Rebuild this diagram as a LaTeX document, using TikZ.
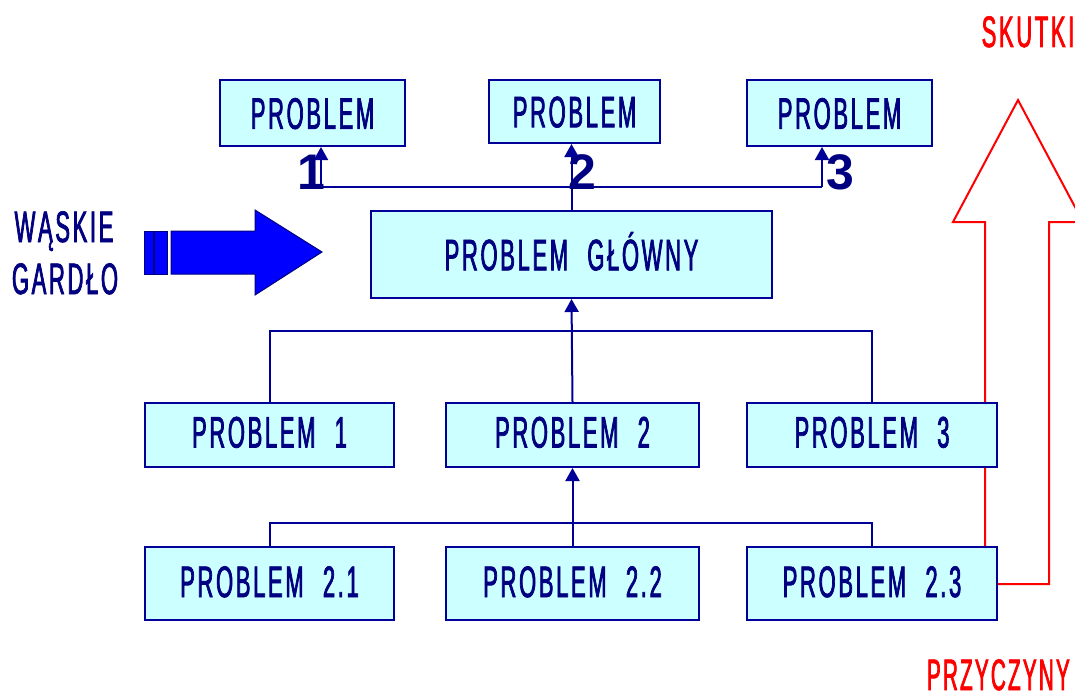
\documentclass[tikz,border=0pt]{standalone}
\usepackage{fontspec}
\setmainfont{Liberation Sans}[FakeStretch=0.5, FakeBold=1.6, LetterSpace=6, WordSpace=2.2]
\newfontfamily\numfont{Liberation Sans}
\newfontfamily\narrowfont{Liberation Sans}[FakeStretch=0.47, FakeBold=1.6, LetterSpace=5]
\usetikzlibrary{arrows.meta,calc}
\definecolor{navy}{HTML}{000080}
\definecolor{boxfill}{HTML}{CCFFFF}
\definecolor{boxline}{HTML}{000099}
\definecolor{redc}{HTML}{FF0000}
\definecolor{blockblue}{HTML}{0000FF}
\begin{document}
\begin{tikzpicture}[x=1pt,y=-1pt,
  pbox/.style={draw=boxline, line width=2pt, fill=boxfill, inner sep=0pt,
    text=navy, font=\fontsize{44}{50}\selectfont, text height=31.5pt, text depth=0pt},
  conn/.style={draw=boxline, line width=2pt},
  arr/.style={conn, -{Triangle[length=13pt,width=14pt]}},
  lbl/.style={text=navy, font=\fontsize{44}{50}\selectfont, inner sep=0pt},
  redlbl/.style={text=redc, font=\fontsize{44}{50}\selectfont, inner sep=0pt},
  num/.style={text=navy, font=\numfont\bfseries\fontsize{50}{50}\selectfont, inner sep=0pt},
  redline/.style={draw=redc, line width=2pt, line join=miter},
  block/.style={fill=blockblue, draw=navy, line width=1pt}
]
\clip (0,0) rectangle (1075,698);
\fill[white] (0,0) rectangle (1075,698);

% red arrow coordinates
\coordinate (rl) at (985,222);
\coordinate (rr) at (1049,222);
\coordinate (rtip) at (1018,100);
\coordinate (rhl) at (953,222);
\coordinate (rhr) at (1083,222);
\coordinate (rbot) at (1049,584);

% red arrow (drawn first, behind boxes)
\draw[redline] (985,547) -- (rl) -- (rhl) -- (rtip) -- (rhr) -- (rr) -- (rbot) -- (997,584);

% top boxes
\node[pbox, minimum width=185pt, minimum height=66pt] (t1) at (312.5,113) {PROBLEM};
\node[pbox, minimum width=171pt, minimum height=63pt] (t2) at (574.5,111.5) {PROBLEM};
\node[pbox, minimum width=185pt, minimum height=66pt] (t3) at (839.5,113) {PROBLEM};

% main
\node[pbox, minimum width=401pt, minimum height=87pt] (main) at (571.5,254.5) {PROBLEM GŁÓWNY};

% row 2
\node[pbox, minimum width=249pt, minimum height=64pt, text height=25pt] (p1) at (269.5,435) {PROBLEM 1};
\node[pbox, minimum width=253pt, minimum height=64pt, text height=25pt] (p2) at (572.5,435) {PROBLEM 2};
\node[pbox, minimum width=250pt, minimum height=64pt, text height=25pt] (p3) at (872,435) {PROBLEM 3};

% row 3
\node[pbox, minimum width=249pt, minimum height=73pt, text height=27pt] (q1) at (269.5,583.5) {PROBLEM 2.1};
\node[pbox, minimum width=253pt, minimum height=73pt, text height=27pt] (q2) at (572.5,583.5) {PROBLEM 2.2};
\node[pbox, minimum width=250pt, minimum height=73pt, text height=27pt] (q3) at (872,583.5) {PROBLEM 2.3};

% connectors top
\coordinate (j1) at (321,187);
\coordinate (j3) at (822,187);
\draw[conn] (j1) -- (j3);
\draw[arr] (j1) -- (j1 |- t1.south);
\draw[arr] (j3) -- (j3 |- t3.south);
\draw[arr] (main.north) -- (main.north |- t2.south);

% middle
\coordinate (bus1) at (572,331);
\draw[conn] (p1.north) -- (p1.north |- bus1) -- (p3.north |- bus1) -- (p3.north);
\draw[arr] (p2.north) -- (main.south);

\coordinate (bus2) at (572,523);
\draw[conn] (q1.north) -- (q1.north |- bus2) -- (q3.north |- bus2) -- (q3.north);
\draw[arr] (q2.north) -- (p2.south);

% numbers
\node[num] (n1) at (311,172) {1};
\node[num] (n2) at (582,172) {2};
\node[num] (n3) at (840,172) {3};

% block arrow
\path[block] (144,231) rectangle (153,274);
\path[block] (154,231) rectangle (167,274);
\path[block] (171,231) -- (255,231) -- (255,210) -- (322,252) -- (255,295) -- (255,274) -- (171,274) -- cycle;

% labels
\node[lbl, anchor=base] (w1) at (64,242) {WĄSKIE};
\node[lbl, anchor=base] (w2) at (65,294) {GARDŁO};
\node[redlbl, anchor=base] (sk) at (1028,47) {SKUTKI};
\node[redlbl, font=\narrowfont\fontsize{44}{50}\selectfont, anchor=base east] (pr) at (1070,690) {PRZYCZYNY};
\end{tikzpicture}
\end{document}
